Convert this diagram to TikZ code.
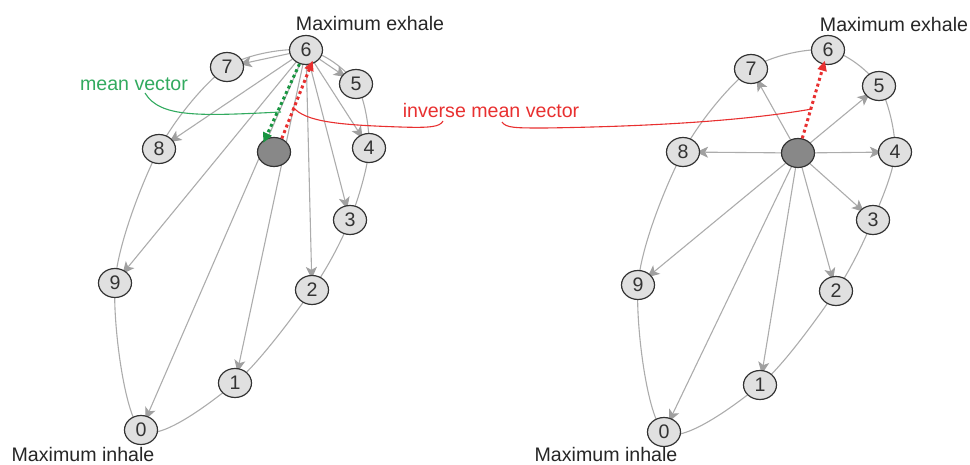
\documentclass[tikz,border=0pt]{standalone}
\usepackage{fontspec}
\setmainfont{Liberation Sans}
\usetikzlibrary{arrows.meta,shapes.geometric,backgrounds}
\definecolor{edgegray}{RGB}{172,172,172}
\definecolor{tipgray}{RGB}{160,160,160}
\definecolor{nodegray}{RGB}{224,224,224}
\definecolor{centregray}{RGB}{136,136,136}
\definecolor{meangreen}{RGB}{25,150,65}
\definecolor{notegreen}{RGB}{50,170,95}
\definecolor{invred}{RGB}{232,48,48}
\begin{document}
\begin{tikzpicture}[x=0.5pt,y=-0.5pt,font=\fontsize{9.8}{11}\selectfont,
 phase/.style={ellipse,draw=black!80,fill=nodegray,line width=0.6pt,inner sep=0pt,
  minimum width=16.5pt,minimum height=14.5pt,text=black!80},
 centre/.style={phase,fill=centregray},
 orbit/.style={draw=edgegray,line width=0.55pt},
 spoke/.style={draw=edgegray,line width=0.55pt,shorten >=-2pt,
  -{Stealth[length=6pt,width=5.5pt,inset=1.5pt,color=tipgray]}},
 meanvec/.style={meangreen,line width=1.5pt,dash pattern=on 1.5pt off 1.5pt,
  -{Triangle[length=5pt,width=4.5pt]}},
 invvec/.style={meanvec,invred},
 label/.style={anchor=base,text=black!85}]
 \useasboundingbox (0,0) rectangle (970,465);
 % left: trajectory seen from maximum exhale
 \node[phase] (l0) at (141,430) {0};
 \node[phase] (l1) at (235,383) {1};
 \node[phase] (l2) at (312,290) {2};
 \node[phase] (l3) at (350,220) {3};
 \node[phase] (l4) at (369,148) {4};
 \node[phase] (l5) at (356,84) {5};
 \node[phase] (l6) at (306,50) {6};
 \node[phase] (l7) at (227,67) {7};
 \node[phase] (l8) at (159,149) {8};
 \node[phase] (l9) at (115,283) {9};
 \node[centre] (lc) at (274,152) {};
 % right: trajectory seen from the mean position
 \node[phase] (r0) at (664,432) {0};
 \node[phase] (r1) at (760,385) {1};
 \node[phase] (r2) at (836,291) {2};
 \node[phase] (r3) at (873,220) {3};
 \node[phase] (r4) at (895,152) {4};
 \node[phase] (r5) at (879,86) {5};
 \node[phase] (r6) at (828,50) {6};
 \node[phase] (r7) at (751,69) {7};
 \node[phase] (r8) at (683,152) {8};
 \node[phase] (r9) at (638,285) {9};
 \node[centre] (rc) at (798,153) {};
 \begin{scope}[on background layer]
  \draw[orbit] plot[smooth cycle] coordinates {(l0) (l1) (l2) (l3) (l4) (l5) (l6) (l7) (l8) (l9)};
  \draw[orbit] plot[smooth cycle] coordinates {(r0) (r1) (r2) (r3) (r4) (r5) (r6) (r7) (r8) (r9)};
  \foreach \k in {0,1,2,3,4,5,7,8,9} {
   \draw[spoke] (l6) -- (l\k);
   \draw[spoke] (rc) -- (r\k);
  }
 \end{scope}
 \draw[meanvec,shorten >=-2pt] (l6.245) -- (lc.125);
 \draw[invvec,shorten >=-2pt] (lc.60) -- (l6.290);
 \draw[invvec,shorten >=-2pt] (rc) -- (r6);
 % labels
 \node[label] (lexh) at (370,31) {Maximum exhale};
 \node[label] (linh) at (83,461) {Maximum inhale};
 \node[label] (rexh) at (894,32) {Maximum exhale};
 \node[label] (rinh) at (606,461) {Maximum inhale};
 \node[anchor=base,text=notegreen] (mv) at (134,91) {mean vector};
 \node[anchor=base,text=invred] (imv) at (491,118) {inverse mean vector};
 \coordinate (gs) at (145,93);
 \coordinate (ge) at (281,112);
 \coordinate (rs) at (293,107);
 \coordinate (rm1) at (443,121);
 \coordinate (rm2) at (502,122);
 \coordinate (re) at (812,109);
 \draw[notegreen,line width=0.55pt] (gs) .. controls (160,118) and (200,116) .. (ge);
 \draw[invred,line width=0.55pt] (rs) .. controls (305,122) and (340,125) .. (400,127)
  .. controls (430,128) and (440,127) .. (rm1);
 \draw[invred,line width=0.55pt] (rm2) .. controls (506,128) and (515,128) .. (545,128)
  .. controls (680,126) and (760,118) .. (re);
\end{tikzpicture}
\end{document}
